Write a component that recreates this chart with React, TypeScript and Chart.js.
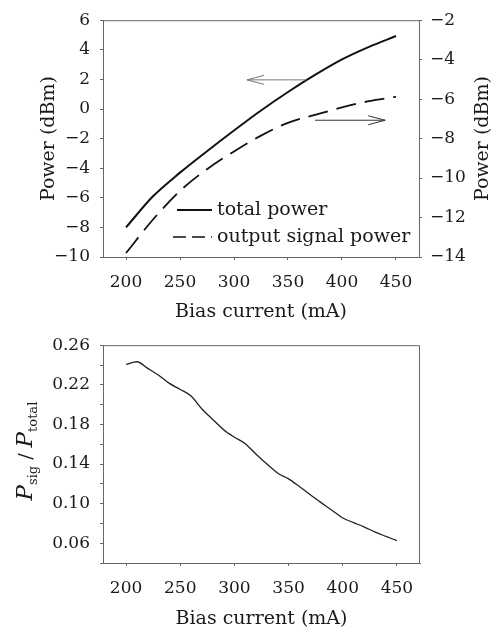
import React, { useEffect, useRef } from 'react';
import { Chart, registerables } from 'chart.js';

Chart.register(...registerables);

// ---------- data ----------
const currentTop = [200, 225, 250, 275, 300, 325, 350, 375, 400, 425, 450];
const totalPower = [-8.0, -5.9, -4.3, -2.85, -1.45, -0.1, 1.15, 2.3, 3.35, 4.2, 4.93];
const signalPower = [-13.8, -12.1, -10.65, -9.55, -8.65, -7.85, -7.2, -6.8, -6.42, -6.1, -5.88];

const currentBottom = [200, 210, 220, 230, 240, 250, 260, 270, 280, 290, 300, 310, 320, 330, 340, 350, 360, 370, 380, 390, 400, 410, 420, 430, 440, 450];
const ratio = [0.2407, 0.2433, 0.2366, 0.2297, 0.2214, 0.2153, 0.2086, 0.1956, 0.185, 0.1747, 0.1671, 0.1605, 0.1499, 0.140, 0.1307, 0.125, 0.1172, 0.1089, 0.101, 0.0933, 0.0854, 0.0808, 0.0763, 0.0711, 0.0668, 0.0626];

const xTicks = [200, 250, 300, 350, 400, 450];
const leftTicks = [-10, -8, -6, -4, -2, 0, 2, 4, 6];
const rightTicks = [-14, -12, -10, -8, -6, -4, -2];
const ratioTicks = [0.04, 0.06, 0.08, 0.10, 0.12, 0.14, 0.16, 0.18, 0.20, 0.22, 0.24, 0.26];
const ratioLabels = ['0.06', '0.10', '0.14', '0.18', '0.22', '0.26'];

const seriesLabels = ['total power', 'output signal power'];
const xTitle = 'Bias current (mA)';
const yTitle = 'Power (dBm)';

// arrow annotations in data units
const leftArrowX = [367, 312];
const leftArrowY = 1.97; // left axis
const rightArrowX = [375, 440];
const rightArrowY = -7.07; // right axis

const FONT = '"DejaVu Serif", "Liberation Serif", serif';
const TXT = '#1a1a1a';
const AX = '#666';

Chart.defaults.font.family = FONT;
Chart.defaults.color = TXT;

const minus = (v: number | string) => String(v).replace('-', '\u2212');

function drawArrow(ctx: CanvasRenderingContext2D, x0: number, x1: number, y: number) {
  const dir = x1 > x0 ? 1 : -1;
  ctx.beginPath();
  ctx.moveTo(x0, y);
  ctx.lineTo(x1, y);
  ctx.moveTo(x1 - dir * 17, y - 4.5);
  ctx.lineTo(x1, y);
  ctx.lineTo(x1 - dir * 17, y + 4.5);
  ctx.stroke();
}

const topDecor = {
  id: 'topDecor',
  afterDraw(chart: any) {
    const { ctx, chartArea: a, scales } = chart;
    ctx.save();
    ctx.strokeStyle = AX;
    ctx.lineWidth = 1;
    ctx.beginPath();
    ctx.moveTo(a.left, a.top + 0.5);
    ctx.lineTo(a.right, a.top + 0.5);
    ctx.stroke();

    // arrows
    ctx.strokeStyle = '#777';
    ctx.lineWidth = 1;
    drawArrow(ctx, scales.x.getPixelForValue(leftArrowX[0]), scales.x.getPixelForValue(leftArrowX[1]), scales.y.getPixelForValue(leftArrowY));
    ctx.strokeStyle = '#333';
    drawArrow(ctx, scales.x.getPixelForValue(rightArrowX[0]), scales.x.getPixelForValue(rightArrowX[1]), scales.y2.getPixelForValue(rightArrowY));

    // legend
    const lx = a.left + 74;
    const tx = a.left + 114;
    const r1 = a.bottom - 47;
    const r2 = a.bottom - 20;
    ctx.strokeStyle = '#111';
    ctx.lineWidth = 2;
    ctx.beginPath();
    ctx.moveTo(lx, r1);
    ctx.lineTo(tx - 5, r1);
    ctx.stroke();
    ctx.lineWidth = 1.6;
    ctx.setLineDash([13, 6]);
    ctx.beginPath();
    ctx.moveTo(lx - 4, r2);
    ctx.lineTo(tx - 5, r2);
    ctx.stroke();
    ctx.setLineDash([]);
    ctx.fillStyle = TXT;
    ctx.font = '19px ' + FONT;
    ctx.textAlign = 'left';
    ctx.textBaseline = 'middle';
    ctx.fillText(seriesLabels[0], tx, r1);
    ctx.fillText(seriesLabels[1], tx, r2);

    // right axis title (reads bottom to top)
    ctx.translate(483, (a.top + a.bottom) / 2);
    ctx.rotate(-Math.PI / 2);
    ctx.textAlign = 'center';
    ctx.fillText(yTitle, 0, 0);
    ctx.restore();
  },
};

const bottomDecor = {
  id: 'bottomDecor',
  afterDraw(chart: any) {
    const { ctx, chartArea: a } = chart;
    ctx.save();
    ctx.strokeStyle = AX;
    ctx.lineWidth = 1;
    ctx.beginPath();
    ctx.moveTo(a.left, a.top + 0.5);
    ctx.lineTo(a.right - 0.5, a.top + 0.5);
    ctx.lineTo(a.right - 0.5, a.bottom);
    ctx.stroke();

    // rich y label: P_sig / P_total
    const segs = [
      { t: 'P', f: 'italic 23px ' + FONT, dy: 0 },
      { t: 'sig', f: '13px ' + FONT, dy: 5 },
      { t: ' / ', f: '19px ' + FONT, dy: 0 },
      { t: 'P', f: 'italic 23px ' + FONT, dy: 0 },
      { t: 'total', f: '13px ' + FONT, dy: 5 },
    ];
    let w = 0;
    const ws = segs.map((s) => {
      ctx.font = s.f;
      const m = ctx.measureText(s.t).width;
      w += m;
      return m;
    });
    ctx.translate(32, (a.top + a.bottom) / 2 - 3);
    ctx.rotate(-Math.PI / 2);
    ctx.fillStyle = TXT;
    ctx.textAlign = 'left';
    ctx.textBaseline = 'alphabetic';
    let x = -w / 2;
    segs.forEach((s, i) => {
      ctx.font = s.f;
      ctx.fillText(s.t, x, s.dy);
      x += ws[i];
    });
    ctx.restore();
  },
};

const xScale = (titlePadBottom: number, height: number) => ({
  type: 'linear' as const,
  position: 'bottom' as const,
  min: 178.7,
  max: 471.3,
  afterBuildTicks: (s: any) => {
    s.ticks = xTicks.map((v) => ({ value: v }));
  },
  afterFit: (s: any) => {
    s.height = height;
  },
  grid: { display: true, drawOnChartArea: false, drawTicks: true, tickLength: 3, color: AX },
  border: { display: true, color: AX, width: 1 },
  ticks: { font: { size: 17 }, padding: 12, color: TXT, autoSkip: false, maxRotation: 0 },
  title: { display: true, text: xTitle, font: { size: 19 }, color: TXT, padding: { top: 0, bottom: titlePadBottom } },
});

export default function App() {
  const topRef = useRef<HTMLCanvasElement>(null);
  const botRef = useRef<HTMLCanvasElement>(null);

  useEffect(() => {
    const top = new Chart(topRef.current as HTMLCanvasElement, {
      type: 'line',
      data: {
        datasets: [
          {
            label: seriesLabels[0],
            data: currentTop.map((x, i) => ({ x, y: totalPower[i] })),
            borderColor: '#111',
            borderWidth: 2,
            pointRadius: 0,
            cubicInterpolationMode: 'monotone',
            yAxisID: 'y',
          },
          {
            label: seriesLabels[1],
            data: currentTop.map((x, i) => ({ x, y: signalPower[i] })),
            borderColor: '#111',
            borderWidth: 1.8,
            borderDash: [20, 9],
            pointRadius: 0,
            cubicInterpolationMode: 'monotone',
            yAxisID: 'y2',
          },
        ],
      },
      options: {
        animation: false,
        responsive: false,
        maintainAspectRatio: false,
        layout: { padding: { top: 15, left: 0, right: 0, bottom: 0 } },
        plugins: { legend: { display: false }, tooltip: { enabled: false } },
        scales: {
          x: xScale(2, 68),
          y: {
            type: 'linear',
            position: 'left',
            min: -10,
            max: 6,
            afterBuildTicks: (s: any) => {
              s.ticks = leftTicks.map((v) => ({ value: v }));
            },
            afterFit: (s: any) => {
              s.width = 103;
            },
            grid: { display: true, drawOnChartArea: false, drawTicks: true, tickLength: 3, color: AX },
            border: { display: true, color: AX, width: 1 },
            ticks: { font: { size: 17 }, padding: 10, color: TXT, autoSkip: false, callback: (v: any) => minus(v) },
            title: { display: true, text: yTitle, font: { size: 19 }, color: TXT, padding: { top: 38, bottom: 0 } },
          },
          y2: {
            type: 'linear',
            position: 'right',
            min: -14,
            max: -2,
            afterBuildTicks: (s: any) => {
              s.ticks = rightTicks.map((v) => ({ value: v }));
            },
            afterFit: (s: any) => {
              s.width = 81;
            },
            grid: { display: true, drawOnChartArea: false, drawTicks: true, tickLength: 3, color: AX },
            border: { display: true, color: AX, width: 1 },
            ticks: { font: { size: 17 }, padding: 8, color: TXT, autoSkip: false, callback: (v: any) => minus(v) },
          },
        },
      },
      plugins: [topDecor],
    } as any);

    const bottom = new Chart(botRef.current as HTMLCanvasElement, {
      type: 'line',
      data: {
        datasets: [
          {
            label: 'Psig/Ptotal',
            data: currentBottom.map((x, i) => ({ x, y: ratio[i] })),
            borderColor: '#222',
            borderWidth: 1.3,
            pointRadius: 0,
            cubicInterpolationMode: 'monotone',
          },
        ],
      },
      options: {
        animation: false,
        responsive: false,
        maintainAspectRatio: false,
        layout: { padding: { top: 10, left: 0, right: 80, bottom: 0 } },
        plugins: { legend: { display: false }, tooltip: { enabled: false } },
        scales: {
          x: xScale(4, 71),
          y: {
            type: 'linear',
            position: 'left',
            min: 0.04,
            max: 0.26,
            afterBuildTicks: (s: any) => {
              s.ticks = ratioTicks.map((v) => ({ value: v }));
            },
            afterFit: (s: any) => {
              s.width = 103;
            },
            grid: { display: true, drawOnChartArea: false, drawTicks: true, tickLength: 3, color: AX },
            border: { display: true, color: AX, width: 1 },
            ticks: {
              font: { size: 17 },
              padding: 10,
              color: TXT,
              autoSkip: false,
              callback: (v: any) => {
                const s = Number(v).toFixed(2);
                return ratioLabels.includes(s) ? s : '';
              },
            },
          },
        },
      },
      plugins: [bottomDecor],
    } as any);

    return () => {
      top.destroy();
      bottom.destroy();
    };
  }, []);

  return (
    <div style={{ position: 'absolute', left: 0, top: 0, width: 500, height: 634, background: '#fff' }}>
      <canvas ref={topRef} width={500} height={325} style={{ position: 'absolute', left: 0, top: 0, display: 'block' }} />
      <canvas ref={botRef} width={500} height={309} style={{ position: 'absolute', left: 0, top: 325, display: 'block' }} />
    </div>
  );
}
